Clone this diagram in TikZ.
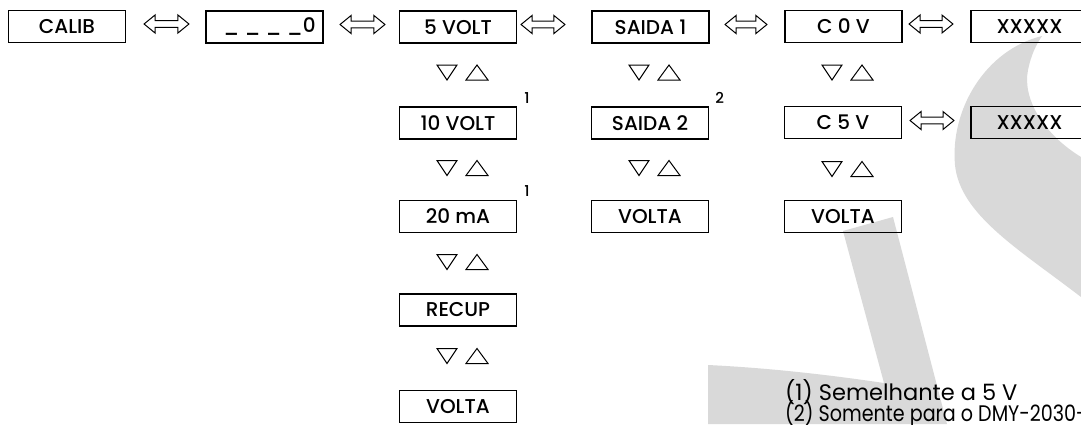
\documentclass[tikz,border=0pt]{standalone}
\usepackage{fontspec}
\setmainfont{Poppins}
\newfontfamily\medfont{Poppins Medium}
\usetikzlibrary{calc}
\definecolor{wm}{RGB}{217,217,217}
\begin{document}
\begin{tikzpicture}[x=1bp,y=-1bp,
  box/.style={draw, line width=1.1bp, minimum width=117bp, minimum height=32bp, inner sep=0pt,
    font=\medfont\fontsize{20bp}{22bp}\selectfont},
  supn/.style={inner sep=0pt, anchor=base west, font=\medfont\fontsize{15bp}{16bp}\selectfont},
  note/.style={inner sep=0pt, anchor=base west, font=\fontsize{22.5bp}{24bp}\selectfont},
  dblarr/.style={line width=1bp, line join=miter, to path={
    let \p1=(\tikztostart), \p2=(\tikztotarget) in
    (\p1) -- (\x1+11,\y1+9) -- (\x1+11,\y1+3.4) -- (\x2-11,\y1+3.4) -- (\x2-11,\y1+9)
    -- (\x2,\y1) -- (\x2-11,\y1-9) -- (\x2-11,\y1-3.4) -- (\x1+11,\y1-3.4) -- (\x1+11,\y1-9) -- cycle}},
  updown/.pic={
    \draw[line width=1bp, line join=miter] (-23,-7.5) -- (-3,-7.5) -- (-13,7.5) -- cycle;
    \draw[line width=1bp, line join=miter] (6,7.5) -- (28,7.5) -- (17,-7.5) -- cycle;
  }
]
\useasboundingbox (0,0) rectangle (1081,424);
\fill[white] (0,0) rectangle (1081,424);
\clip (0,0) rectangle (1081,424);
% watermark
\fill[wm] (1042,36) .. controls (985,50) and (950,110) .. (955,165)
  .. controls (960,215) and (1020,250) .. (1081,297) -- (1081,157)
  .. controls (1045,135) and (1022,100) .. (1028,70)
  .. controls (1031,55) and (1036,45) .. (1042,36) -- cycle;
\fill[wm] (708,365) .. controls (770,368) and (830,375) .. (884,383) -- (843,231) -- (893,217)
  -- (947,424) -- (708,424) -- cycle;
% row 1
\node[box] (calib) at (67,26.5) {CALIB};
\node[box] (blank) at (264.5,27) {\hspace*{10bp}\_ \_ \_ \_0};
\node[box] (v5) at (458,27) {5 VOLT};
\node[box] (s1) at (650.5,27) {SAIDA 1};
\node[box] (c0) at (843.5,26.5) {C 0 V};
\node[box] (x1) at (1029.5,26.5) {XXXXX};
% row 2
\node[box] (v10) at (458,123) {10 VOLT};
\node[box] (s2) at (650,123) {SAIDA 2};
\node[box] (c5) at (843,122.5) {C 5 V};
\node[box] (x2) at (1029.5,122.5) {XXXXX};
% row 3
\node[box] (ma) at (458,216.5) {20 mA};
\node[box] (sv) at (650,216.5) {VOLTA};
\node[box] (cv) at (843,216.5) {VOLTA};
% rows 4-5
\node[box] (recup) at (458,310) {RECUP};
\node[box] (va) at (458,406.5) {VOLTA};
% superscripts
\node[supn] (n1) at ([xshift=7bp,yshift=3bp]v10.north east) {1};
\node[supn] (n2) at ([xshift=6bp,yshift=3bp]s2.north east) {2};
\node[supn] (n3) at ([xshift=7bp,yshift=3bp]ma.north east) {1};
% double arrows
\draw[dblarr] ([xshift=18bp,yshift=2.5bp]calib.east) to ([xshift=-16.5bp,yshift=2.5bp]blank.west);
\draw[dblarr] ([xshift=16.5bp,yshift=2.5bp]blank.east) to ([xshift=-14bp,yshift=2.5bp]v5.west);
\draw[dblarr] ([xshift=4bp,yshift=2.5bp]v5.east) to ([xshift=-26.5bp,yshift=2.5bp]s1.west);
\draw[dblarr] ([xshift=15.5bp,yshift=2.5bp]s1.east) to ([xshift=-17.5bp,yshift=2.5bp]c0.west);
\draw[dblarr] ([xshift=6.5bp,yshift=2.5bp]c0.east) to ([xshift=-17.5bp,yshift=2.5bp]x1.west);
\draw[dblarr] ([xshift=8bp,yshift=2bp]c5.east) to ([xshift=-16.5bp,yshift=2bp]x2.west);
% up/down triangles
\pic at (460,72.5) {updown};
\pic at (460,168) {updown};
\pic at (460,262) {updown};
\pic at (460,356) {updown};
\pic at (652,72.5) {updown};
\pic at (652,168) {updown};
\pic at (845,72.5) {updown};
\pic at (845,169) {updown};
% notes
\node[note] (f1) at (785,400) {(1) Semelhante a 5 V};
\node[note] (f2) at (785,421) {\scalebox{0.85}[1]{(2) Somente para o DMY-2030-}};
\end{tikzpicture}
\end{document}
